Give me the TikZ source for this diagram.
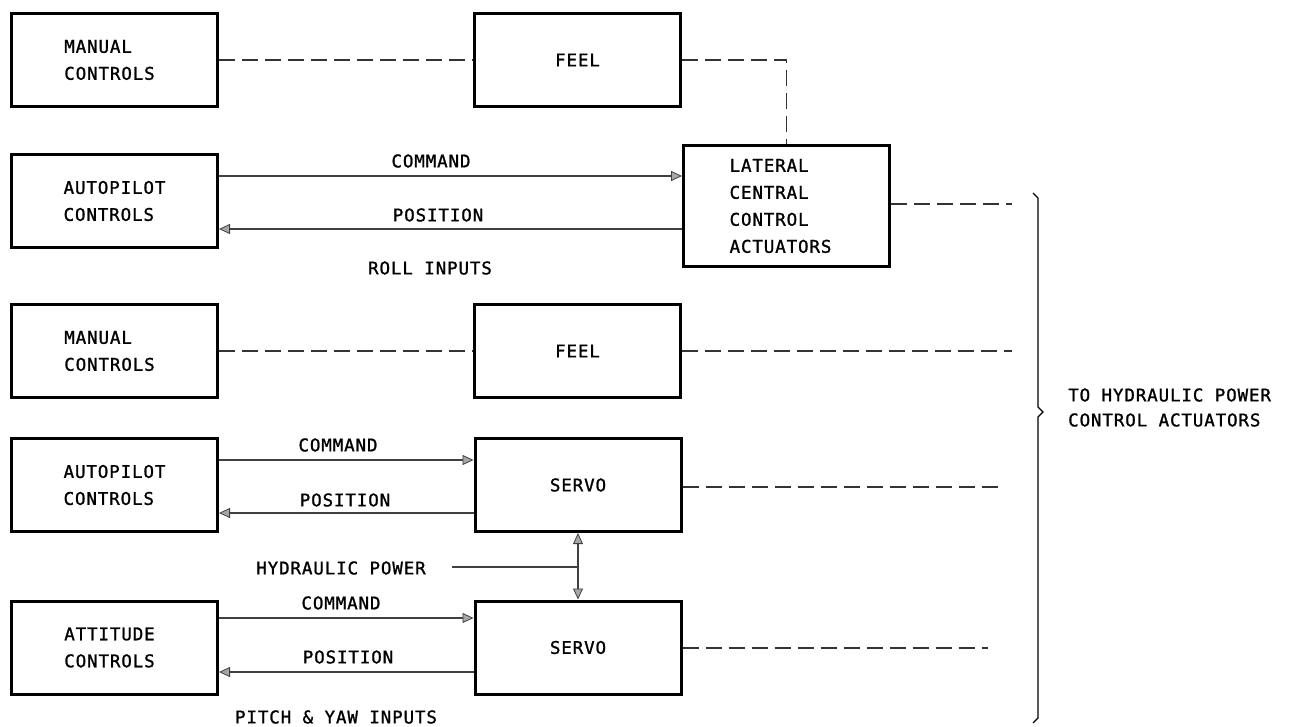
\documentclass[tikz,border=0pt]{standalone}
\usepackage{fontspec}
\newfontfamily\dm[LetterSpace=5,FakeBold=1.2]{DejaVu Sans Mono}
\usetikzlibrary{arrows.meta}
\tikzset{
  tipx/.tip={Triangle[length=11pt, width=10pt, line width=0.8pt, fill=black!35]},
  blk/.style={draw, line width=3pt, rectangle, minimum width=206pt, minimum height=93pt, inner sep=0pt, align=left, font=\dm\fontsize{17.5}{27}\selectfont},
  arr/.style={draw=black!75, line width=1.1pt, -tipx},
  dbl/.style={draw=black!75, line width=1.1pt, tipx-tipx},
  pln/.style={draw=black!75, line width=1.1pt},
  dsh/.style={draw=black!80, line width=1.1pt, dash pattern=on 16pt off 7pt},
  lbl/.style={inner sep=0pt, align=left, font=\dm\fontsize{17.5}{25}\selectfont}
}
\begin{document}
\begin{tikzpicture}[x=1pt, y=-1pt]
\useasboundingbox (0,0) rectangle (1289,727);
% boxes
\node[blk] (mc1) at (114.5,60) {MANUAL\\CONTROLS\hspace*{10pt}};
\node[blk] (feel1) at (577.5,60) {FEEL};
\node[blk] (ap1) at (114.5,201) {AUTOPILOT\\CONTROLS\hspace*{10pt}};
\node[blk, minimum height=121pt] (lat) at (786.5,206) {LATERAL\\CENTRAL\\CONTROL\\ACTUATORS\hspace*{12pt}};
\node[blk] (mc2) at (114.5,351) {MANUAL\\CONTROLS\hspace*{10pt}};
\node[blk] (feel2) at (577.5,351) {FEEL};
\node[blk] (ap2) at (114.5,485) {AUTOPILOT\\CONTROLS\hspace*{10pt}};
\node[blk] (s1) at (578,485) {SERVO};
\node[blk] (att) at (114.5,647.5) {ATTITUDE\\CONTROLS\hspace*{10pt}};
\node[blk] (s2) at (578,647.5) {SERVO};
% labels
\node[lbl] (c1) at (431,161) {COMMAND};
\node[lbl] (p1) at (438,215) {POSITION};
\node[lbl] (roll) at (430,268) {ROLL INPUTS};
\node[lbl] (c2) at (338,445) {COMMAND};
\node[lbl] (p2) at (345,500) {POSITION};
\node[lbl] (hp) at (341,568) {HYDRAULIC POWER};
\node[lbl] (c3) at (341,603) {COMMAND};
\node[lbl] (p3) at (348,657) {POSITION};
\node[lbl] (pitch) at (336,717) {PITCH \& YAW INPUTS};
\node[lbl, anchor=west] (to) at (1068,407.5) {TO HYDRAULIC POWER\\CONTROL ACTUATORS};
% free ends
\coordinate (e1) at (1012,204);
\coordinate (e2) at (1012,351);
\coordinate (e3) at (998,487);
\coordinate (e4) at (988,648);
\coordinate (hpj) at (578,567);
\coordinate (hps) at (452,567);
% dashed connectors
\draw[dsh] (mc1.east) -- (feel1.west);
\draw[dsh] (feel1.east) -| (lat.north);
\draw[dsh] (lat.east |- e1) -- (e1);
\draw[dsh] (mc2.east) -- (feel2.west);
\draw[dsh] (feel2.east |- e2) -- (e2);
\draw[dsh] (s1.east |- e3) -- (e3);
\draw[dsh] (s2.east |- e4) -- (e4);
% arrows
\draw[arr] (ap1.east |- 0,176) -- (lat.west |- 0,176);
\draw[arr] (lat.west |- 0,229) -- (ap1.east |- 0,229);
\draw[arr] (ap2.east |- 0,460) -- (s1.west |- 0,460);
\draw[arr] (s1.west |- 0,513) -- (ap2.east |- 0,513);
\draw[arr] (att.east |- 0,618) -- (s2.west |- 0,618);
\draw[arr] (s2.west |- 0,672) -- (att.east |- 0,672);
\draw[dbl] (s1.south) -- (s2.north);
\draw[pln] (hps) -- (hpj);
% brace
\draw[line width=1.1pt, line join=miter] (1033,193) -- (1038,198) -- (1038,407) -- (1043,412) -- (1038,417) -- (1038,718) -- (1033,723);
\end{tikzpicture}
\end{document}
